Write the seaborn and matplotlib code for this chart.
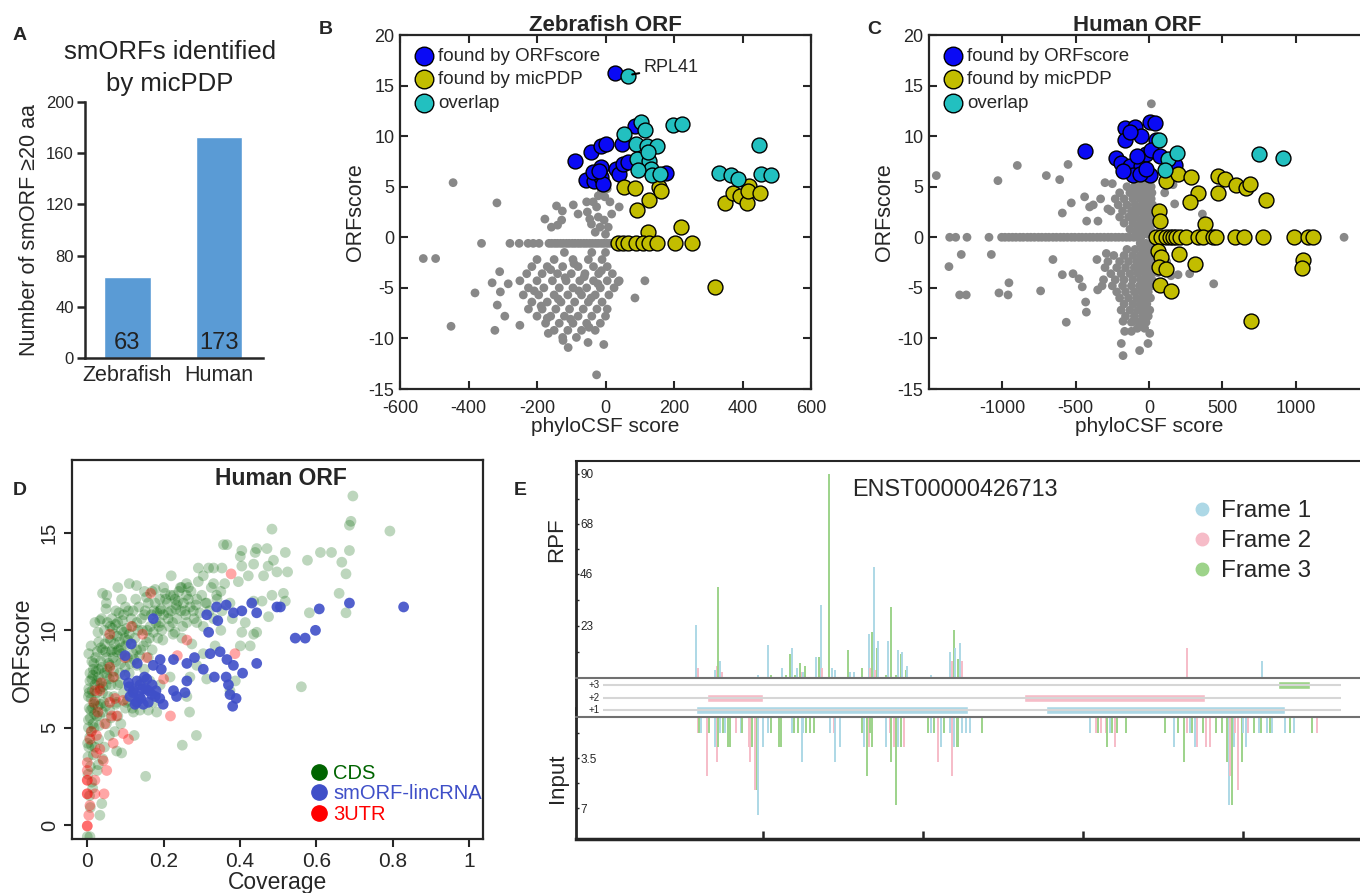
import pandas as pd
import seaborn as sns
import matplotlib.pyplot as plt
from matplotlib.lines import Line2D

# style first, fonts after (set_style resets font.family)
sns.set_style('ticks')
plt.rcParams['font.family'] = ['Liberation Sans', 'DejaVu Sans']
plt.rcParams['axes.unicode_minus'] = False

W, H = 1360, 893

def box(l, t, r, b):
    # pixel box on the 1360x893 canvas -> figure fraction rect
    return [l / W, 1 - b / H, (r - l) / W, (b - t) / H]

# ---------------- data ----------------
# A: smORFs identified by micPDP
species = ['Zebrafish', 'Human']
smorf_counts = [63, 173]

# B: Zebrafish ORF (phyloCSF score, ORFscore)
b_orfscore = [(29, 16.2), (-88, 7.5), (-41, 8.4), (-12, 9.0), (1, 9.2), (-57, 5.7), (-34, 5.6),
              (-14, 6.0), (-12, 6.9), (-7, 5.3), (-36, 6.5), (32, 6.8), (39, 6.3), (52, 7.2),
              (66, 7.4), (47, 9.2), (86, 11.0), (176, 6.4), (-20, 6.6)]
b_micpdp = [(54, 5.0), (86, 4.9), (127, 3.7), (93, 2.7), (157, 5.0), (163, 4.6), (220, 1.0),
            (125, 0.5), (37, -0.6), (50, -0.6), (66, -0.6), (89, -0.6), (110, -0.6), (127, -0.6),
            (149, -0.6), (202, -0.6), (254, -0.6), (319, -4.9), (350, 3.4), (371, 4.4), (394, 4.1),
            (412, 3.4), (419, 5.1), (416, 4.6), (450, 4.4)]
b_overlap = [(66, 15.9), (54, 10.2), (105, 11.4), (114, 10.6), (90, 9.2), (120, 9.0), (149, 9.0),
             (92, 7.7), (127, 7.5), (134, 6.8), (95, 6.7), (137, 6.2), (159, 6.3), (125, 8.4),
             (196, 11.1), (222, 11.2), (332, 6.4), (366, 6.2), (387, 5.8), (449, 9.1), (453, 6.3),
             (483, 6.2)]
b_other = [
    (-445, 5.4), (-317, 3.4), (-532, -2.1), (-496, -2.1), (-381, -5.5), (-451, -8.8), (-323, -9.2),
    (-331, -4.5), (-309, -3.4), (-307, -5.4), (-284, -4.6), (-316, -6.7), (-294, -7.8), (-250, -8.7),
    (-167, -9.5), (-124, -10.2), (-109, -10.9), (-51, -10.4), (-5, -10.6), (-26, -13.6), (115, -4.3),
    (86, -6.0), (37, -4.4), (-362, -0.6), (-279, -0.6), (-252, -0.6), (-226, -0.6), (-211, -0.6),
    (-194, -0.6), (-165, -0.6), (-157, -0.6), (-148, -0.6), (-140, -0.6), (-131, -0.6), (-123, -0.6),
    (-114, -0.6), (-106, -0.6), (-97, -0.6), (-89, -0.6), (-80, -0.6), (-72, -0.6), (-63, -0.6),
    (-55, -0.6), (-46, -0.6), (-38, -0.6), (-29, -0.6), (-21, -0.6), (-12, -0.6), (-4, -0.6),
    (5, -0.6), (13, -0.6), (22, -0.6), (30, -0.6), (39, -0.6),
    (-177, 1.8), (-143, 3.1), (-126, 2.6), (-94, 3.2), (-158, 1.0), (-128, 1.7), (-80, 2.3),
    (-53, 2.5), (-36, 3.5), (-21, 4.1), (-12, 4.6), (-2, 4.0), (13, 3.5), (40, 3.0), (18, 2.3),
    (-21, 2.0), (-46, 1.8), (-16, 1.0), (8, 1.0), (-55, 3.5), (-26, 3.0), (-41, 1.3), (-4, 1.7),
    (-8, 5.0), (5, 4.8), (-30, 0.5), (0, 0.3), (-140, 1.2),
    (-120, -1.5), (-40, -1.5), (0, -1.5),
    (-200, -2.2), (-150, -2.2), (-95, -2.2), (-50, -2.2), (-10, -2.2),
    (-215, -2.9), (-170, -2.9), (-125, -2.9), (-80, -2.9), (-35, -2.9), (5, -2.9),
    (-230, -3.6), (-185, -3.6), (-140, -3.6), (-100, -3.6), (-60, -3.6), (-20, -3.6), (20, -3.6),
    (-250, -4.3), (-200, -4.3), (-155, -4.3), (-115, -4.3), (-75, -4.3), (-35, -4.3), (5, -4.3),
    (40, -4.3), (-225, -5.0), (-180, -5.0), (-135, -5.0), (-95, -5.0), (-55, -5.0), (-15, -5.0),
    (25, -5.0), (-240, -5.7), (-195, -5.7), (-150, -5.7), (-110, -5.7), (-70, -5.7), (-30, -5.7),
    (10, -5.7), (-215, -6.4), (-170, -6.4), (-130, -6.4), (-90, -6.4), (-50, -6.4), (-10, -6.4),
    (-225, -7.1), (-185, -7.1), (-145, -7.1), (-105, -7.1), (-65, -7.1), (-25, -7.1), (5, -7.1),
    (-200, -7.8), (-160, -7.8), (-120, -7.8), (-80, -7.8), (-40, -7.8), (0, -7.8),
    (-175, -8.5), (-135, -8.5), (-95, -8.5), (-55, -8.5), (-15, -8.5),
    (-150, -9.2), (-110, -9.2), (-70, -9.2), (-30, -9.2), (-125, -9.9), (-85, -9.9),
    (-160, -3.2), (-118, -4.0), (-78, -5.3), (-42, -6.0), (-188, -6.8), (-102, -8.1), (-62, -3.9),
    (-22, -4.6), (-138, -6.1), (-208, -5.3), (-92, -2.6), (-48, -8.9), (-12, -3.3), (-170, -8.0)]

# C: Human ORF
c_orfscore = [(-439, 8.5), (-166, 10.8), (-98, 10.9), (9, 11.4), (-166, 9.6), (-52, 10.0), (45, 9.6),
              (-223, 7.8), (-189, 7.3), (-132, 7.0), (-52, 7.0), (-109, 6.2), (5, 6.2), (-18, 8.2),
              (16, 8.6), (73, 8.0), (175, 7.1), (-177, 6.6), (-64, 6.3), (-132, 10.4), (39, 11.3),
              (-80, 8.0), (-20, 6.8)]
c_micpdp = [(114, 5.6), (198, 6.3), (289, 6.0), (470, 6.1), (516, 5.8), (591, 5.2), (659, 4.9),
            (686, 5.3), (334, 4.4), (282, 3.5), (470, 4.4), (800, 3.7), (68, 2.6), (73, 1.6),
            (380, 1.3), (50, 0), (84, 0), (118, 0), (141, 0), (164, 0), (186, 0), (209, 0), (255, 0),
            (334, 0), (368, 0), (436, 0), (459, 0), (584, 0), (646, 0), (777, 0), (986, 0), (1084, 0),
            (1118, 0), (61, -1.4), (80, -1.9), (205, -1.7), (68, -2.9), (114, -3.1), (311, -2.6),
            (77, -4.7), (152, -5.3), (698, -8.3), (1050, -2.2), (1046, -3.0)]
c_overlap = [(68, 9.6), (130, 7.7), (193, 8.3), (107, 6.7), (750, 8.2), (914, 7.8)]
c_other = [
    (-1359, 0), (-1318, 0), (-1241, 0), (-1091, 0), (1330, 0),
    (-1005, 0), (-982, 0), (-956, 0), (-931, 0), (-907, 0), (-880, 0), (-857, 0), (-829, 0),
    (-806, 0), (-781, 0), (-754, 0), (-731, 0), (-705, 0), (-682, 0), (-655, 0), (-631, 0),
    (-604, 0), (-581, 0), (-556, 0), (-529, 0), (-506, 0), (-479, 0), (-456, 0), (-430, 0),
    (-404, 0), (-381, 0), (-354, 0), (-331, 0), (-305, 0), (-279, 0), (-256, 0), (-229, 0),
    (-206, 0), (-180, 0), (-154, 0), (-131, 0), (-104, 0), (-80, 0), (-55, 0),
    (-1450, 6.1), (-1030, 5.6), (-898, 7.1), (-700, 6.1), (-609, 5.7), (-552, 7.2), (-530, 3.4),
    (-439, 4.0), (-591, 2.4), (-425, 1.6), (-348, 1.6), (-405, 3.0), (-280, 2.8), (-1280, -1.7),
    (-1075, -1.7), (-1364, -2.9), (-1291, -5.7), (-1246, -5.7), (-1023, -5.5), (-961, -5.7),
    (-955, -4.5), (-739, -5.3), (-655, -2.2), (-591, -3.7), (-518, -3.6), (-477, -4.1),
    (-455, -4.9), (-432, -6.4), (-427, -7.4), (-564, -8.4), (-355, -2.2), (-291, -1.6),
    (441, -4.6), (364, 2.3), (175, 3.3), (107, 4.4), (16, 13.2), (277, -3.6), (198, -3.7),
    (-177, -8.3), (-166, -9.3), (-120, -9.3), (-189, -10.5), (-177, -11.7), (-64, -11.2),
    (-7, -10.5), (5, -9.5), (-52, -8.5), (164, 5.2), (60, -3.5), (100, -3.2), (150, -3.8),
    (120, -2.4), (-320, -4.8), (-350, -5.2), (-300, 5.4), (-250, 5.3), (-330, 3.8), (-380, 3.2),
    (-60, 5.6), (-20, 5.6), (10, 5.6),
    (-150, 5.0), (-100, 5.0), (-55, 5.0), (-15, 5.0), (15, 5.0),
    (-200, 4.4), (-130, 4.4), (-85, 4.4), (-40, 4.4), (0, 4.4), (20, 4.4),
    (-230, 3.8), (-170, 3.8), (-110, 3.8), (-60, 3.8), (-20, 3.8), (15, 3.8),
    (-210, 3.2), (-150, 3.2), (-95, 3.2), (-45, 3.2), (-5, 3.2), (25, 3.2),
    (-260, 2.6), (-180, 2.6), (-120, 2.6), (-70, 2.6), (-25, 2.6), (15, 2.6),
    (-200, 2.0), (-140, 2.0), (-90, 2.0), (-40, 2.0), (5, 2.0),
    (-170, 1.4), (-110, 1.4), (-60, 1.4), (-15, 1.4), (20, 1.4),
    (-130, 0.8), (-80, 0.8), (-35, 0.8), (10, 0.8), (-90, 0.3), (-45, 0.3), (-10, 0.3), (15, 0.3),
    (-60, -0.6), (-20, -0.6), (15, -0.6),
    (-150, -1.2), (-95, -1.2), (-45, -1.2), (-5, -1.2), (20, -1.2),
    (-240, -1.8), (-170, -1.8), (-110, -1.8), (-60, -1.8), (-15, -1.8), (20, -1.8),
    (-280, -2.4), (-200, -2.4), (-140, -2.4), (-85, -2.4), (-35, -2.4), (10, -2.4),
    (-300, -3.0), (-220, -3.0), (-160, -3.0), (-100, -3.0), (-50, -3.0), (-5, -3.0), (25, -3.0),
    (-260, -3.6), (-190, -3.6), (-130, -3.6), (-75, -3.6), (-25, -3.6), (15, -3.6),
    (-310, -4.2), (-230, -4.2), (-170, -4.2), (-110, -4.2), (-55, -4.2), (-10, -4.2), (20, -4.2),
    (-250, -4.8), (-180, -4.8), (-120, -4.8), (-65, -4.8), (-20, -4.8), (15, -4.8),
    (-220, -5.4), (-160, -5.4), (-100, -5.4), (-50, -5.4), (-5, -5.4),
    (-200, -6.0), (-140, -6.0), (-85, -6.0), (-35, -6.0), (10, -6.0),
    (-170, -6.6), (-110, -6.6), (-60, -6.6), (-15, -6.6),
    (-190, -7.2), (-130, -7.2), (-75, -7.2), (-25, -7.2), (5, -7.2),
    (-160, -7.8), (-100, -7.8), (-45, -7.8), (-5, -7.8),
    (-120, -8.4), (-70, -8.4), (-20, -8.4), (-80, -9.0), (-30, -9.0)]

# D: Human ORF, coverage vs ORFscore
d_cds = [
    (0.696, 16.9), (0.691, 15.6), (0.687, 15.4), (0.793, 15.1), (0.484, 15.2), (0.687, 14.1),
    (0.640, 14.0), (0.611, 14.0), (0.577, 13.6), (0.667, 13.5), (0.678, 12.9), (0.660, 11.9),
    (0.678, 10.9), (0.582, 10.9), (0.561, 7.1), (0.519, 14.0), (0.525, 13.0), (0.514, 11.9),
    (0.519, 11.5), (0.471, 14.2), (0.444, 14.2), (0.440, 14.0), (0.405, 14.1), (0.401, 13.8),
    (0.405, 13.3), (0.436, 13.4), (0.462, 12.8), (0.488, 13.6), (0.474, 13.3), (0.497, 13.0),
    (0.422, 12.8), (0.396, 12.5), (0.366, 14.4), (0.357, 14.4), (0.353, 13.2), (0.331, 13.2),
    (0.291, 13.2), (0.318, 13.2), (0.304, 12.8), (0.331, 12.4), (0.291, 12.5), (0.265, 12.2),
    (0.220, 12.8), (0.247, 12.2), (0.226, 11.8), (0.204, 11.9), (0.129, 12.3), (0.178, 12.1),
    (0.155, 11.7), (0.051, 11.8), (0.049, 11.1), (0.033, 10.5), (0.458, 11.5), (0.484, 11.8),
    (0.436, 11.5), (0.414, 10.4), (0.436, 9.8), (0.444, 9.9), (0.405, 9.9), (0.401, 9.2),
    (0.427, 9.2), (0.475, 10.7), (0.374, 11.4), (0.353, 11.0), (0.331, 10.6), (0.304, 10.2),
    (0.287, 10.4), (0.278, 11.0), (0.256, 11.0), (0.261, 10.4), (0.287, 11.6), (0.313, 11.4),
    (0.339, 11.8), (0.234, 11.3), (0.212, 10.9), (0.191, 11.0), (0.191, 10.4), (0.230, 9.9),
    (0.248, 9.6), (0.274, 9.3), (0.304, 8.8), (0.335, 9.2), (0.287, 8.2), (0.269, 7.6),
    (0.313, 7.5), (0.374, 6.9), (0.388, 7.4), (0.268, 5.8), (0.286, 4.6), (0.249, 4.1),
    (0.153, 2.5), (0.123, 4.6), (0.090, 3.7), (0.077, 3.8), (0.033, 0.5), (0.007, -0.6),
    (0.0, -0.6), (0.038, 1.1), (0.029, 3.1), (0.059, 5.9), (0.077, 6.3), (0.086, 7.3),
    (0.103, 6.3), (0.121, 5.8), (0.138, 5.9), (0.160, 5.9), (0.173, 6.3), (0.191, 7.2),
    (0.217, 7.6), (0.182, 5.8), (0.261, 6.6), (0.164, 7.4),
    (0.002, 3.5), (0.004, 4.0), (0.006, 4.5), (0.003, 5.0), (0.008, 5.5), (0.005, 6.0),
    (0.010, 6.5), (0.004, 7.0), (0.012, 7.5), (0.008, 3.0), (0.012, 2.2), (0.006, 1.5),
    (0.015, 5.2), (0.018, 6.2), (0.020, 7.2), (0.016, 8.0), (0.022, 8.6), (0.025, 6.8),
    (0.020, 4.0), (0.010, 4.8), (0.014, 6.0), (0.018, 5.0), (0.025, 5.6), (0.003, 6.6),
    (0.007, 7.8), (0.012, 8.4), (0.004, 8.8), (0.010, 9.2), (0.002, 2.6), (0.016, 3.6),
    (0.030, 7.6), (0.035, 8.4), (0.040, 9.0), (0.030, 9.4), (0.045, 7.8), (0.050, 8.6),
    (0.040, 6.8), (0.035, 6.2), (0.050, 7.2), (0.055, 9.6), (0.045, 10.0), (0.060, 8.2),
    (0.030, 8.0), (0.025, 7.4), (0.040, 5.8), (0.055, 6.6), (0.060, 10.2), (0.050, 5.2),
    (0.030, 4.4), (0.045, 4.0), (0.028, 9.9), (0.038, 10.6), (0.052, 8.0), (0.034, 7.0),
    (0.065, 9.0), (0.070, 9.8), (0.075, 8.4), (0.080, 10.4), (0.085, 9.4), (0.090, 8.8),
    (0.070, 7.6), (0.080, 7.2), (0.090, 10.0), (0.095, 10.8), (0.100, 9.2), (0.105, 8.6),
    (0.110, 9.8), (0.115, 10.6), (0.100, 11.2), (0.065, 10.6), (0.075, 11.0), (0.085, 7.8),
    (0.095, 6.8), (0.110, 7.8), (0.120, 8.8), (0.120, 11.0), (0.070, 6.6), (0.080, 5.6),
    (0.100, 6.0), (0.090, 11.6), (0.068, 8.6), (0.082, 9.0), (0.098, 9.6), (0.062, 7.2),
    (0.125, 9.6), (0.130, 10.4), (0.135, 11.2), (0.140, 9.0), (0.145, 10.0), (0.150, 10.8),
    (0.155, 9.4), (0.160, 11.4), (0.165, 10.2), (0.170, 9.0), (0.175, 11.0), (0.180, 10.4),
    (0.185, 9.6), (0.190, 11.6), (0.195, 10.0), (0.200, 10.8), (0.210, 11.4), (0.215, 10.2),
    (0.220, 11.0), (0.225, 9.8), (0.230, 11.6), (0.235, 10.6), (0.240, 12.0), (0.245, 11.0),
    (0.250, 10.2), (0.130, 8.2), (0.150, 8.0), (0.160, 8.6), (0.140, 7.4), (0.120, 7.0),
    (0.170, 12.0), (0.260, 11.8), (0.270, 11.2), (0.280, 10.6), (0.300, 11.8), (0.320, 11.0),
    (0.260, 12.4), (0.200, 12.2), (0.150, 12.0), (0.020, 10.4), (0.050, 11.4), (0.040, 11.9),
    (0.080, 12.2), (0.110, 12.4), (0.350, 10.0), (0.380, 10.6), (0.350, 12.0),
    (0.001, 4.2), (0.003, 5.4), (0.005, 6.8), (0.007, 7.4), (0.009, 5.9), (0.011, 4.1),
    (0.013, 6.9), (0.015, 7.7), (0.017, 8.3), (0.019, 5.7), (0.021, 6.4), (0.023, 7.9),
    (0.026, 8.9), (0.028, 6.1), (0.031, 5.1), (0.033, 7.3), (0.036, 9.1), (0.038, 8.1),
    (0.041, 7.1), (0.043, 6.3), (0.046, 9.3), (0.048, 8.9), (0.051, 7.7), (0.053, 10.4),
    (0.056, 8.3), (0.058, 7.5), (0.061, 9.5), (0.063, 8.9), (0.066, 10.1), (0.069, 7.9),
    (0.072, 9.3), (0.074, 10.3), (0.077, 8.9), (0.079, 9.7), (0.083, 10.9), (0.087, 8.3),
    (0.089, 9.1), (0.092, 10.5), (0.096, 9.9), (0.099, 8.1), (0.103, 10.1), (0.106, 9.5),
    (0.108, 11.0), (0.113, 8.3), (0.117, 9.3), (0.119, 10.2), (0.123, 8.5), (0.127, 11.6),
    (0.129, 9.0), (0.133, 10.0), (0.137, 8.7), (0.142, 10.6), (0.147, 9.2), (0.152, 11.0),
    (0.157, 10.0), (0.163, 9.6), (0.168, 10.8), (0.173, 9.9), (0.178, 11.4), (0.183, 10.9),
    (0.188, 10.2), (0.193, 11.1), (0.198, 9.5), (0.205, 11.6), (0.212, 10.6), (0.218, 11.8),
    (0.224, 10.4), (0.232, 11.1), (0.238, 11.5), (0.244, 12.2), (0.252, 11.4), (0.258, 10.8),
    (0.265, 11.6), (0.272, 12.0), (0.285, 11.3), (0.295, 10.9), (0.310, 11.4), (0.325, 12.2),
    (0.340, 11.6), (0.360, 12.4), (0.033, 5.6), (0.048, 6.1), (0.062, 5.5), (0.075, 6.2),
    (0.088, 5.2), (0.105, 6.4), (0.118, 6.0), (0.058, 4.6), (0.072, 4.8), (0.040, 3.4),
    (0.026, 2.8), (0.014, 1.9), (0.008, 0.9)]
d_lincrna = [
    (0.829, 11.2), (0.687, 11.4), (0.608, 11.1), (0.598, 10.0), (0.571, 9.6), (0.545, 9.6),
    (0.506, 11.2), (0.497, 11.2), (0.444, 10.9), (0.431, 11.4), (0.405, 11.0), (0.383, 10.9),
    (0.364, 11.3), (0.339, 11.2), (0.313, 10.8), (0.342, 10.5), (0.318, 9.9), (0.322, 8.8),
    (0.348, 8.9), (0.366, 8.5), (0.383, 8.2), (0.444, 8.3), (0.407, 7.8), (0.364, 7.6),
    (0.333, 7.6), (0.370, 7.2), (0.374, 6.7), (0.390, 6.5), (0.381, 6.1), (0.304, 8.0),
    (0.281, 8.6), (0.261, 8.3), (0.226, 8.5), (0.191, 8.5), (0.194, 8.0), (0.226, 6.9),
    (0.256, 6.8), (0.261, 7.4), (0.234, 6.6), (0.199, 6.2), (0.178, 6.6), (0.173, 10.6),
    (0.115, 9.3), (0.099, 8.7), (0.131, 8.3), (0.173, 8.2), (0.099, 7.7), (0.108, 7.3),
    (0.121, 6.9), (0.138, 7.2), (0.153, 7.0), (0.169, 6.7), (0.112, 6.6), (0.129, 6.3),
    (0.147, 6.2), (0.156, 7.5), (0.137, 6.6), (0.160, 6.9), (0.145, 7.0),
    (0.120, 6.8), (0.140, 6.5), (0.160, 6.3), (0.180, 6.9), (0.130, 7.4), (0.150, 7.6),
    (0.110, 7.1), (0.170, 7.2), (0.190, 6.5), (0.125, 6.2)]
d_3utr = [
    (0.0, -0.05), (0.0, 1.6), (0.0, 2.3), (0.0, 2.8), (0.0, 3.2), (0.007, 4.4), (0.011, 4.8),
    (0.017, 6.3), (0.020, 6.9), (0.033, 6.9), (0.024, 4.6), (0.033, 3.9), (0.042, 3.3),
    (0.051, 2.8), (0.044, 1.6), (0.020, 1.6), (0.020, 2.3), (0.007, 1.0), (0.059, 8.1),
    (0.068, 7.6), (0.073, 6.5), (0.059, 6.3), (0.064, 5.6), (0.046, 5.2), (0.077, 5.6),
    (0.068, 4.2), (0.094, 4.7), (0.108, 4.4), (0.099, 8.6), (0.116, 10.2), (0.145, 9.8),
    (0.156, 8.6), (0.166, 11.9), (0.094, 6.4), (0.218, 5.6), (0.200, 7.5), (0.236, 8.7),
    (0.261, 9.5), (0.377, 12.9), (0.387, 8.8), (0.024, 3.7), (0.028, 5.8), (0.037, 7.3),
    (0.059, 9.8), (0.0, -0.05), (0.0, 1.6), (0.0, 2.3), (0.004, 0.5)]

# E: ENST00000426713 read profile, (position, value, frame)
rpf_bars = [
    (75, 23.2, 1), (76, 4.4, 2), (87, 3.7, 1), (88, 5.4, 2), (89, 40, 3), (90, 7.6, 1), (91, 2.5, 2),
    (114, 1.5, 1), (120, 14.4, 1), (122, 1.5, 3), (129, 4.4, 1), (131, 1.5, 3), (134, 10.6, 3),
    (135, 13.2, 1), (137, 1.5, 3), (138, 4.4, 1), (140, 6.6, 3), (141, 2.5, 2), (142, 2.5, 1),
    (143, 5.4, 3), (150, 9.4, 1), (152, 9.4, 3), (153, 32.4, 1), (154, 4.4, 2), (158, 90, 3),
    (160, 4.4, 1), (162, 3.7, 1), (170, 12.5, 3), (171, 2.5, 1), (174, 2.5, 1), (179, 4.4, 3),
    (183, 19.4, 1), (184, 4.4, 2), (185, 20.3, 3), (186, 49, 1), (187, 3.7, 2), (188, 13.2, 3),
    (189, 16.5, 1), (194, 1.5, 3), (195, 16.5, 1), (197, 31.3, 3), (200, 1.5, 3), (201, 12.5, 1),
    (203, 10.6, 3), (204, 11.5, 1), (206, 3.7, 3), (207, 5.4, 1), (222, 1.5, 1), (234, 11.5, 1),
    (235, 7.6, 2), (236, 21.3, 3), (237, 13.2, 1), (239, 8.5, 3), (240, 15.4, 1), (241, 7.6, 2),
    (382, 13.2, 2), (429, 7.6, 1)]
input_bars = [
    (76, 1.75, 2), (77, 1.75, 3), (78, 1.75, 1), (82, 4.75, 2), (83, 1.75, 3), (87, 2.75, 1),
    (88, 3.75, 2), (89, 2.75, 3), (90, 1.75, 1), (92, 1.75, 3), (93, 1.75, 1), (95, 2.75, 3),
    (96, 2.75, 3), (100, 1.75, 2), (103, 1.75, 1), (104, 1.75, 3), (108, 2.75, 2), (109, 3.75, 2),
    (110, 2.75, 3), (112, 5.75, 2), (113, 5.75, 3), (114, 7.5, 1), (117, 2.75, 1), (120, 1.75, 1),
    (122, 1.75, 3), (127, 2.75, 3), (128, 2.75, 3), (135, 1.75, 1), (136, 1.75, 3), (139, 1.75, 3),
    (141, 3.75, 1), (142, 1.75, 1), (144, 1.75, 3), (146, 1.75, 3), (149, 1.75, 3), (159, 1.75, 1),
    (161, 1.75, 2), (162, 3.75, 1), (165, 2.75, 1), (179, 1.75, 3), (180, 2.75, 1), (182, 4.75, 3),
    (183, 2.75, 2), (184, 1.75, 3), (185, 2.75, 3), (194, 2.75, 1), (196, 1.75, 2), (197, 3.75, 3),
    (199, 2.75, 2), (200, 6.75, 3), (201, 2.75, 1), (203, 2.75, 3), (205, 2.75, 2), (220, 1.75, 3),
    (222, 1.75, 1), (224, 1.75, 3), (226, 3.75, 2), (228, 2.75, 1), (230, 1.75, 3), (234, 1.75, 1),
    (235, 4.75, 2), (236, 2.75, 1), (238, 2.75, 3), (239, 2.75, 3), (241, 1.75, 1), (244, 1.75, 1),
    (246, 1.75, 1), (254, 1.75, 3), (321, 1.75, 1), (325, 1.75, 2), (326, 1.75, 3), (328, 1.75, 2),
    (331, 1.75, 2), (332, 2.75, 3), (334, 1.75, 1), (335, 1.75, 3), (337, 2.75, 2), (338, 1.75, 3),
    (344, 1.75, 3), (368, 1.75, 3), (374, 2.75, 1), (376, 1.75, 3), (380, 3.75, 3), (382, 1.75, 2),
    (384, 1.75, 1), (385, 1.75, 3), (387, 2.75, 1), (388, 2.75, 2), (392, 1.75, 3), (394, 2.75, 2),
    (396, 2.75, 2), (400, 1.75, 3), (404, 1.75, 3), (407, 3.75, 3), (408, 6.75, 1), (409, 4.75, 2),
    (410, 6.75, 3), (411, 2.75, 1), (412, 1.75, 2), (414, 5.75, 2), (416, 3.75, 3), (417, 1.75, 1),
    (419, 2.75, 1), (420, 1.75, 2), (424, 1.75, 3), (427, 1.75, 1), (428, 1.75, 3), (432, 1.75, 1),
    (434, 1.75, 3), (435, 1.75, 1), (443, 1.75, 1), (446, 1.75, 3), (449, 1.75, 1), (460, 1.75, 3),
    (463, 1.75, 2)]
orf_frame = [1, 1, 2, 2, 3]
orf_start = [75, 294, 82, 280, 439]
orf_end = [245, 443, 117, 393, 459]
frame_names = ['Frame 1', 'Frame 2', 'Frame 3']

# ---------------- figure ----------------
fig = plt.figure(figsize=(13.6, 8.93), dpi=100)

def panel_label(x, y, s):
    fig.text(x / W, 1 - y / H, s, fontsize=14, fontweight='bold', ha='center', va='center')

# ---- A ----
axA = fig.add_axes(box(85, 102, 263, 358))
sns.barplot(x=species, y=smorf_counts, color='#5a9bd5', saturation=1, width=0.51, ax=axA)
axA.set_xlim(-0.46, 1.48)
axA.set_ylim(0, 200)
axA.set_yticks([0, 40, 80, 120, 160, 200])
for i, v in enumerate(smorf_counts):
    axA.text(i, 12, str(v), ha='center', va='center', fontsize=17, color='#222222')
sns.despine(ax=axA)
for sp in ['left', 'bottom']:
    axA.spines[sp].set_linewidth(1.8)
axA.tick_params(axis='x', length=0, labelsize=15.5, pad=5)
axA.tick_params(axis='y', length=6, width=1.8, labelsize=12, pad=2)
axA.set_ylabel('Number of smORF ≥20 aa', fontsize=15.5, labelpad=4)
fig.text(170 / W, 1 - 68 / H, 'smORFs identified\nby micPDP', ha='center', va='center',
         fontsize=18.5, linespacing=1.4, color='#222222')
panel_label(20, 35, 'A')

# ---- B and C ----
def orf_scatter(ax, other, orfscore, micpdp, overlap):
    sns.scatterplot(x=[p[0] for p in other], y=[p[1] for p in other], color='#888888', s=40,
                    edgecolor='none', ax=ax, legend=False, zorder=2)
    groups = [(orfscore, '#0a0af5', 'found by ORFscore'),
              (micpdp, '#c2bd00', 'found by micPDP'),
              (overlap, '#22c0c0', 'overlap')]
    for pts, col, name in groups:
        sns.scatterplot(x=[p[0] for p in pts], y=[p[1] for p in pts], color=col, s=115,
                        edgecolor='black', linewidth=1, ax=ax, label=name, zorder=3)
    ax.set_ylim(-15, 20)
    ax.set_yticks(range(-15, 21, 5))
    ax.tick_params(direction='in', top=True, right=True, length=6, width=1.5, labelsize=13)
    ax.tick_params(axis='y', pad=4)
    ax.tick_params(axis='x', pad=8)
    for sp in ax.spines.values():
        sp.set_linewidth(1.6)
    ax.set_xlabel('phyloCSF score', fontsize=15, labelpad=0)
    ax.set_ylabel('ORFscore', fontsize=15.5, labelpad=2)
    ax.legend(loc='upper left', frameon=False, fontsize=13.5, handletextpad=0.15,
              labelspacing=0.32, borderaxespad=0.45, borderpad=0.25, markerscale=1.25,
              handlelength=1.2)

axB = fig.add_axes(box(400, 35, 811, 389))
orf_scatter(axB, b_other, b_orfscore, b_micpdp, b_overlap)
axB.set_xlim(-600, 600)
axB.set_xticks(range(-600, 601, 200))
axB.set_title('Zebrafish ORF', fontsize=16, fontweight='bold', pad=3)
axB.annotate('RPL41', xy=(78, 16.1), xytext=(112, 16.8), fontsize=13, va='center', ha='left',
             arrowprops=dict(arrowstyle='-', lw=1.5, color='black', shrinkA=1, shrinkB=0))
panel_label(326, 30, 'B')

axC = fig.add_axes(box(929, 35, 1369, 389))
orf_scatter(axC, c_other, c_orfscore, c_micpdp, c_overlap)
axC.set_xlim(-1500, 1500)
axC.set_xticks([-1000, -500, 0, 500, 1000])
axC.set_title('Human ORF', fontsize=16, fontweight='bold', pad=3, x=0.473)
panel_label(874, 30, 'C')

# ---- D ----
axD = fig.add_axes(box(72, 460, 483, 839))
sns.scatterplot(x=[p[0] for p in d_cds], y=[p[1] for p in d_cds], color='#006400', alpha=0.26,
                s=60, edgecolor='none', ax=axD, legend=False)
sns.scatterplot(x=[p[0] for p in d_3utr], y=[p[1] for p in d_3utr], color='#ff0000', alpha=0.35,
                s=60, edgecolor='none', ax=axD, legend=False)
sns.scatterplot(x=[p[0] for p in d_lincrna], y=[p[1] for p in d_lincrna], color='#3f4fc8',
                alpha=0.9, s=60, edgecolor='none', ax=axD, legend=False)
axD.set_xlim(-0.04, 1.037)
axD.set_ylim(-0.72, 18.75)
axD.set_xticks([0, 0.2, 0.4, 0.6, 0.8, 1])
axD.set_xticklabels(['0', '0.2', '0.4', '0.6', '0.8', '1'])
axD.set_yticks([0, 5, 10, 15])
axD.tick_params(length=6, width=1.5, labelsize=15)
axD.tick_params(axis='y', labelsize=14.5)
for lab in axD.get_yticklabels():
    lab.set_rotation(90)
    lab.set_va('center')
for sp in axD.spines.values():
    sp.set_linewidth(1.6)
axD.set_xlabel('Coverage', fontsize=16.5, labelpad=0)
axD.set_ylabel('ORFscore', fontsize=16.5, labelpad=4)
axD.text(0.5085, 0.9525, 'Human ORF', transform=axD.transAxes, ha='center', va='center',
         fontsize=16.5, fontweight='bold')
d_handles = [Line2D([], [], marker='o', ls='', color=c, markersize=11)
             for c in ['#006400', '#3f4fc8', '#ff0000']]
legD = axD.legend(d_handles, ['CDS', 'smORF-lincRNA', '3UTR'], loc='lower left',
                  bbox_to_anchor=(0.548, 0.013), frameon=False, fontsize=14.5,
                  handletextpad=0.1, labelspacing=0.08, borderpad=0, handlelength=1.2)
for t, c in zip(legD.get_texts(), ['#006400', '#3f4fc8', '#ff0000']):
    t.set_color(c)
panel_label(20, 490, 'D')

# ---- E ----
frame_colors = {1: '#add8e6', 2: '#f6bcc8', 3: '#9dd38a'}
xmax = (1362 - 576) / 1.6

axR = fig.add_axes(box(576, 461, 1362, 678))
axR.vlines([b[0] for b in rpf_bars], 0, [b[1] for b in rpf_bars],
           colors=[frame_colors[b[2]] for b in rpf_bars], lw=1.4)
axR.set_xlim(0, xmax)
axR.set_ylim(0, 95.7)
axR.set_xticks([])
axR.set_yticks([23, 46, 68, 90])
axR.set_yticks([11.5, 34.5, 57, 79], minor=True)
axR.tick_params(axis='y', which='both', direction='in', length=2, width=1, labelsize=8.5, pad=-3)
for lab in axR.get_yticklabels():
    lab.set_ha('left')
for sp in ['right', 'bottom']:
    axR.spines[sp].set_visible(False)
axR.spines['left'].set_linewidth(2)
axR.spines['top'].set_linewidth(1.5)
axR.text(237, 83, 'ENST00000426713', ha='center', va='center', fontsize=16.8)
e_handles = [Line2D([], [], marker='o', ls='', color=frame_colors[k], markersize=9) for k in (1, 2, 3)]
axR.legend(e_handles, frame_names, loc='upper left', bbox_to_anchor=(0.781, 0.82), frameon=False,
           fontsize=17.5, handletextpad=0.3, labelspacing=0.33, borderpad=0, borderaxespad=0,
           handlelength=1.0)

axI = fig.add_axes(box(576, 708, 1362, 839))
axI.vlines([b[0] for b in input_bars], 0, [b[1] for b in input_bars],
           colors=[frame_colors[b[2]] for b in input_bars], lw=1.4)
axI.set_xlim(0, xmax)
axI.set_ylim(9.16, 0)
axI.set_xticks([117, 217, 317, 417])
axI.set_yticks([3.5, 7])
axI.set_yticklabels(['3.5', '7'])
axI.set_yticks([1.75, 5.25], minor=True)
axI.tick_params(axis='x', direction='in', length=6, width=1.8, labelbottom=False)
axI.tick_params(axis='y', which='both', direction='in', length=2, width=1, labelsize=8.5, pad=-3)
for lab in axI.get_yticklabels():
    lab.set_ha('left')
for sp in ['right', 'top']:
    axI.spines[sp].set_visible(False)
axI.spines['left'].set_linewidth(2)
axI.spines['bottom'].set_linewidth(2.5)

axT = fig.add_axes(box(576, 678, 1362, 717))
axT.set_facecolor('white')
track_y = {1: 7, 2: 19, 3: 32}
axT.hlines(list(track_y.values()), 17, 478, color='#d6d6d6', lw=1.5)
for f, s0, s1 in zip(orf_frame, orf_start, orf_end):
    axT.barh(track_y[f], s1 - s0, left=s0, height=8, color=frame_colors[f])
for f, y in track_y.items():
    axT.text(15, y, f'+{f}', ha='right', va='center', fontsize=7)
axT.set_xlim(0, xmax)
axT.set_ylim(0, 39)
axT.set_xticks([])
axT.set_yticks([])
axT.spines['right'].set_visible(False)
axT.spines['left'].set_linewidth(2)
for sp in ['top', 'bottom']:
    axT.spines[sp].set_color('#707070')
    axT.spines[sp].set_linewidth(1.5)

fig.text(557 / W, 1 - 540 / H, 'RPF', rotation=90, ha='center', va='center', fontsize=16)
fig.text(557 / W, 1 - 778 / H, 'Input', rotation=90, ha='center', va='center', fontsize=16)
panel_label(520, 490, 'E')

fig.savefig('out.png', dpi=100)
